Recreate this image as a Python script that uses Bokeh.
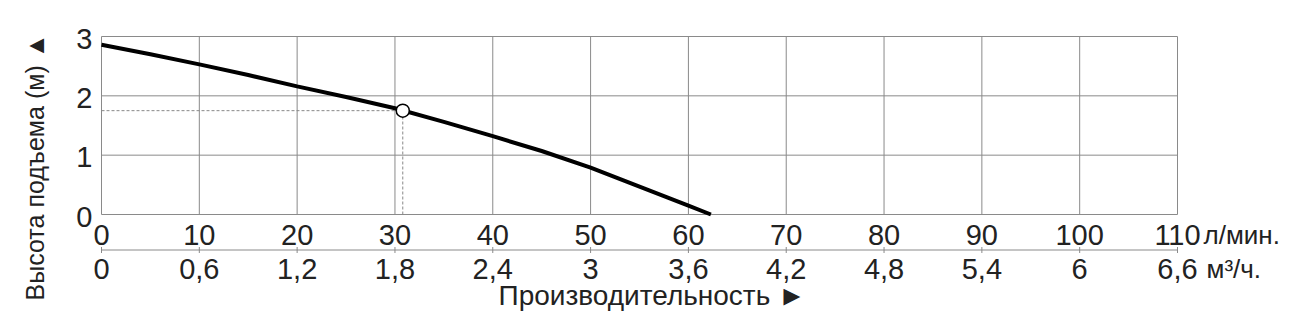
import math
from bokeh.plotting import figure
from bokeh.models import Range1d
from bokeh.core.properties import value
from bokeh.embed import file_html
from bokeh.resources import INLINE

# ---- data ----
flow_lpm = [0, 5, 10, 15, 20, 25, 30, 35, 40, 45, 50, 55, 60, 62.3]
head_m = [2.86, 2.70, 2.53, 2.35, 2.16, 1.98, 1.79, 1.56, 1.32, 1.07, 0.79, 0.47, 0.15, 0.0]
duty_flow = [30.8]
duty_head = [1.75]
lpm_ticks = [0, 10, 20, 30, 40, 50, 60, 70, 80, 90, 100, 110]
lpm_labels = ["0", "10", "20", "30", "40", "50", "60", "70", "80", "90", "100", "110"]
m3h_labels = ["0", "0,6", "1,2", "1,8", "2,4", "3", "3,6", "4,2", "4,8", "5,4", "6", "6,6"]
head_ticks = [0, 1, 2, 3]
head_labels = ["0", "1", "2", "3"]
y_title = "Высота подъема (м) ▲"
x_title = "Производительность ►"
unit_lpm = "л/мин."
unit_m3h = "м³/ч."

# ---- layout (pixels of the 1305x329 canvas) ----
W, H = 1305, 329
X0_PX, X1_PX = 101, 1177      # x = 0 and x = 110
Y0_PX, Y1_PX = 214, 36        # y = 0 and y = 3
KX = (X1_PX - X0_PX) / (lpm_ticks[-1] - lpm_ticks[0])
KY = (Y0_PX - Y1_PX) / (head_ticks[-1] - head_ticks[0])
BASE_FIX = 10                 # renderer places alphabetic baseline this much lower


def xd(px):
    return (px - X0_PX) / KX


def yd(py):
    return (Y0_PX - py) / KY


def yb(py):
    """data y for a text whose visible baseline should sit at pixel row py"""
    return yd(py - BASE_FIX)


FONT = "Liberation Sans"
TXT = "#222222"
GRID = "#8a8a8a"
TICK_FS = value("29px")

p = figure(width=W, height=H, output_backend="svg", toolbar_location=None,
           x_range=Range1d(xd(0), xd(W)), y_range=Range1d(yd(H), yd(0)),
           min_border=0, x_axis_location=None, y_axis_location=None)
p.outline_line_color = None
p.xgrid.visible = False
p.ygrid.visible = False
p.background_fill_color = "white"
p.border_fill_color = "white"

xmin, xmax = lpm_ticks[0], lpm_ticks[-1]
ymin, ymax = head_ticks[0], head_ticks[-1]

# grid + frame
p.segment(x0=lpm_ticks, y0=[ymin] * len(lpm_ticks), x1=lpm_ticks, y1=[ymax] * len(lpm_ticks),
          line_color=GRID, line_width=1)
p.segment(x0=[xmin] * len(head_ticks), y0=head_ticks, x1=[xmax] * len(head_ticks), y1=head_ticks,
          line_color=GRID, line_width=1)

# secondary scale line with ticks
axis2_y = yd(249.5)
p.segment(x0=[xmin], y0=[axis2_y], x1=[xmax], y1=[axis2_y], line_color=GRID, line_width=1)
p.segment(x0=lpm_ticks, y0=[yd(246.5)] * len(lpm_ticks), x1=lpm_ticks,
          y1=[yd(252.5)] * len(lpm_ticks), line_color=GRID, line_width=1)

# tick labels
p.text(x=[xd(92)] * len(head_ticks), y=[yb(Y0_PX - t * KY + 12) for t in head_ticks],
       text=head_labels, text_align="right", text_baseline="alphabetic",
       text_font=value(FONT), text_font_size=TICK_FS, text_color=TXT)
p.text(x=lpm_ticks, y=[yb(244)] * len(lpm_ticks), text=lpm_labels,
       text_align="center", text_baseline="alphabetic",
       text_font=value(FONT), text_font_size=TICK_FS, text_color=TXT)
p.text(x=lpm_ticks, y=[yb(278)] * len(lpm_ticks), text=m3h_labels,
       text_align="center", text_baseline="alphabetic",
       text_font=value(FONT), text_font_size=TICK_FS, text_color=TXT)

# units
p.text(x=[xd(1203)], y=[yb(244)], text=[unit_lpm], text_align="left",
       text_baseline="alphabetic", text_font=value(FONT), text_font_size=value("26px"),
       text_color=TXT)
p.text(x=[xd(1206)], y=[yb(278)], text=[unit_m3h], text_align="left",
       text_baseline="alphabetic", text_font=value(FONT), text_font_size=value("26px"),
       text_color=TXT)

# titles
p.text(x=[xd(498)], y=[yb(305)], text=[x_title], text_align="left",
       text_baseline="alphabetic", text_font=value(FONT), text_font_size=value("28px"),
       text_color=TXT)
p.text(x=[xd(34)], y=[yd(166.5)], text=[y_title], angle=math.pi / 2,
       text_align="center", text_baseline="middle", text_font=value(FONT),
       text_font_size=value("25px"), text_color=TXT)

# duty point guides
p.line([xmin, duty_flow[0]], [duty_head[0], duty_head[0]], line_color="#888888",
       line_width=1, line_dash="3 2")
p.line([duty_flow[0], duty_flow[0]], [ymin, duty_head[0]], line_color="#888888",
       line_width=1, line_dash="3 2")

# curve
p.line(flow_lpm, head_m, line_color="black", line_width=4)
p.scatter(duty_flow, duty_head, size=13, fill_color="white", line_color="black", line_width=1.5)

open("out.html", "w").write(file_html(p, INLINE))
